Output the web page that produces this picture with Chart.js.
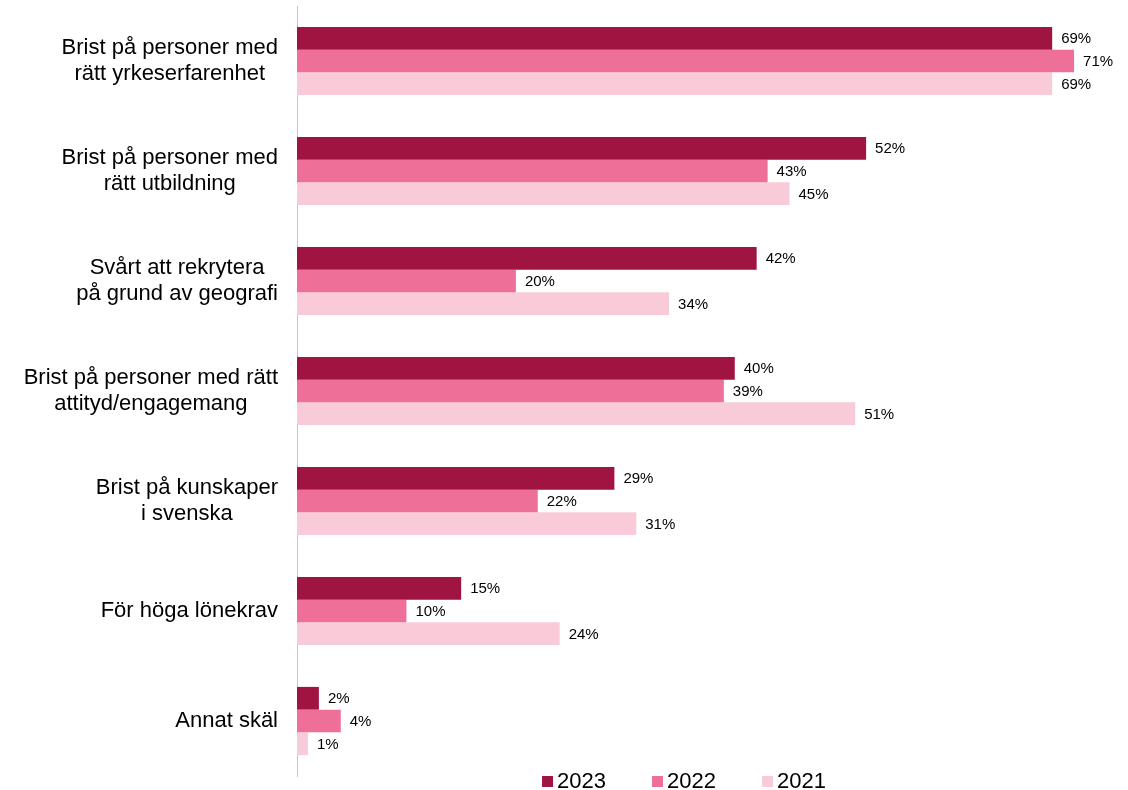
<!DOCTYPE html>
<html>
<head>
<meta charset="utf-8">
<script src="https://cdn.jsdelivr.net/npm/chart.js@4/dist/chart.umd.min.js"></script>
<style>
body{margin:0;background:#fff}
#wrap{width:1128px;height:790px;position:relative}
</style>
</head>
<body>
<div id="wrap"><canvas id="myChart"></canvas></div>
<script>
// categories, one array of lines per label
const categories = [
    ["Brist på personer med", "rätt yrkeserfarenhet"],
    ["Brist på personer med", "rätt utbildning"],
    ["Svårt att rekrytera", "på grund av geografi"],
    ["Brist på personer med rätt", "attityd/engagemang"],
    ["Brist på kunskaper", "i svenska"],
    ["För höga lönekrav"],
    ["Annat skäl"]
]
const years = ["2023", "2022", "2021"]
const values2023 = [69, 52, 42, 40, 29, 15, 2]
const values2022 = [71, 43, 20, 39, 22, 10, 4]
const values2021 = [69, 45, 34, 51, 31, 24, 1]
const colors = ["#a01442", "#ee7099", "#f9cbd9"]

const font = "Liberation Sans, Arial, sans-serif"

// y labels: each block centered on itself, right edge lined up
const labelPlugin = {
    id: "catLabels",
    afterDraw(chart){
        const ctx = chart.ctx
        const y = chart.scales.y
        ctx.save()
        ctx.font = "22px " + font
        ctx.fillStyle = "#000"
        ctx.textAlign = "center"
        ctx.textBaseline = "middle"
        const lh = 26
        categories.forEach((lines, i) => {
            let w = 0
            for (const l of lines) w = Math.max(w, ctx.measureText(l).width)
            const cx = 278 - w / 2
            const cy = y.getPixelForTick(i)
            lines.forEach((l, j) => {
                ctx.fillText(l, cx, cy + (j - (lines.length - 1) / 2) * lh)
            })
        })
        ctx.restore()
    }
}

// percentage next to every bar
const valuePlugin = {
    id: "valueLabels",
    afterDatasetsDraw(chart){
        const ctx = chart.ctx
        ctx.save()
        ctx.font = "15px " + font
        ctx.fillStyle = "#000"
        ctx.textAlign = "left"
        ctx.textBaseline = "middle"
        chart.data.datasets.forEach((ds, di) => {
            chart.getDatasetMeta(di).data.forEach((bar, i) => {
                ctx.fillText(ds.data[i] + "%", bar.x + 9, bar.y + 1)
            })
        })
        ctx.restore()
    }
}

// legend along the bottom
const legendPlugin = {
    id: "bottomLegend",
    afterDraw(chart){
        const ctx = chart.ctx
        const area = chart.chartArea
        ctx.save()
        ctx.font = "22px " + font
        ctx.textBaseline = "middle"
        const pitch = 110
        const last = 15 + ctx.measureText(years[2]).width
        let x = (area.left + area.right) / 2 - 7 - (2 * pitch + last) / 2
        const cy = 781
        chart.data.datasets.forEach((ds) => {
            ctx.fillStyle = ds.backgroundColor
            ctx.fillRect(x, cy - 5, 11, 11)
            ctx.fillStyle = "#000"
            ctx.fillText(ds.label, x + 15, cy + 1)
            x += pitch
        })
        ctx.restore()
    }
}

var ctx = document.getElementById("myChart").getContext("2d")
var myChart = new Chart(ctx, {
    type: "bar",
    data: {
        labels: categories,
        datasets: [{
            label: years[0],
            data: values2023,
            backgroundColor: colors[0]
        },{
            label: years[1],
            data: values2022,
            backgroundColor: colors[1]
        },{
            label: years[2],
            data: values2021,
            backgroundColor: colors[2]
        }]
    },
    options: {
        indexAxis: "y",
        responsive: true,
        maintainAspectRatio: false,
        animation: false,
        layout: { padding: { top: 6, right: 43, bottom: 14, left: 0 } },
        datasets: {
            bar: { categoryPercentage: 0.62, barPercentage: 1 }
        },
        scales: {
            x: {
                display: false,
                min: 0,
                max: 72
            },
            y: {
                grid: { display: false },
                border: { display: true, color: "#c6c6c6", width: 1 },
                ticks: { display: false },
                afterFit(scale){ scale.width = 297 }
            }
        },
        plugins: {
            legend: { display: false },
            tooltip: { enabled: false }
        }
    },
    plugins: [labelPlugin, valuePlugin, legendPlugin]
})
</script>
</body>
</html>
